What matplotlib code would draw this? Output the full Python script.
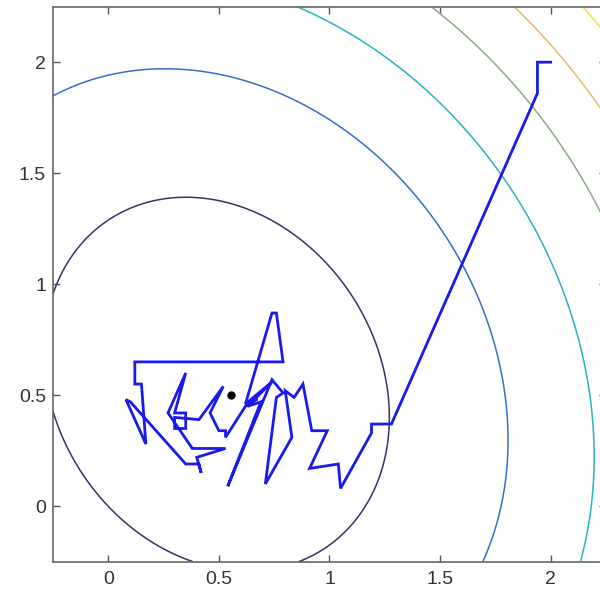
import matplotlib
matplotlib.use('Agg')
import matplotlib.pyplot as plt
import numpy as np

# target function: tilted quadratic bowl
center_x, center_y = 0.49, 0.55
coef_xx, coef_xy, coef_yy = 1.0, 0.33, 0.86
levels = [0.59, 1.68, 2.82, 3.97, 5.05, 6.15]
level_colors = ['#35346a', '#3470c8', '#2ab4c0', '#8daa8a', '#e2bd6a', '#f4e23a']

# sampler path (starts at (2, 2))
path_x = [2.00, 1.94, 1.94, 1.28, 1.19, 1.19, 1.05, 1.04, 0.91, 0.99, 0.92, 0.88,
          0.84, 0.80, 0.83, 0.71, 0.76, 0.79, 0.74, 0.54, 0.69, 0.63, 0.74, 0.62,
          0.74, 0.76, 0.79, 0.12, 0.12, 0.15, 0.17, 0.08, 0.10, 0.35, 0.41, 0.42,
          0.40, 0.53, 0.38, 0.27, 0.35, 0.30, 0.35, 0.35, 0.30, 0.30, 0.41, 0.52,
          0.46, 0.50, 0.53, 0.53, 0.62, 0.67]
path_y = [2.00, 2.00, 1.86, 0.37, 0.37, 0.33, 0.08, 0.19, 0.17, 0.34, 0.34, 0.55,
          0.49, 0.52, 0.31, 0.10, 0.49, 0.51, 0.57, 0.09, 0.47, 0.45, 0.56, 0.46,
          0.87, 0.87, 0.65, 0.65, 0.55, 0.55, 0.28, 0.48, 0.47, 0.19, 0.19, 0.15,
          0.22, 0.26, 0.26, 0.42, 0.60, 0.42, 0.42, 0.35, 0.35, 0.40, 0.39, 0.54,
          0.42, 0.34, 0.34, 0.31, 0.45, 0.48]

mean_point = (0.555, 0.50)

ticks = [0, 0.5, 1, 1.5, 2]
tick_labels = ['0', '0.5', '1', '1.5', '2']

fig = plt.figure(figsize=(6, 5.92), dpi=100)
ax = fig.add_axes([0.0883, 0.0512, 0.9217, 0.9375])

gx = np.linspace(-0.25, 2.25, 300)
gy = np.linspace(-0.25, 2.25, 300)
X, Y = np.meshgrid(gx, gy)
DX, DY = X - center_x, Y - center_y
Z = coef_xx * DX**2 + coef_xy * DX * DY + coef_yy * DY**2

ax.contour(X, Y, Z, levels=levels, colors=level_colors, linewidths=1.1)
ax.plot(path_x, path_y, color='#1a1aee', linewidth=2.0, solid_joinstyle='miter')
ax.plot(*mean_point, 'o', color='black', markersize=5)

ax.set_xlim(-0.25, 2.25)
ax.set_ylim(-0.25, 2.25)
ax.set_xticks(ticks)
ax.set_xticklabels(tick_labels)
ax.set_yticks(ticks)
ax.set_yticklabels(tick_labels)
ax.tick_params(direction='in', length=5, width=1, colors='#555555',
               top=True, right=True, labelsize=14, labelcolor='#333333')
ax.tick_params(axis='x', pad=7)
ax.tick_params(axis='y', pad=5)
for lbl in ax.get_xticklabels() + ax.get_yticklabels():
    lbl.set_family('Liberation Sans')
for sp in ax.spines.values():
    sp.set_color('#666666')
    sp.set_linewidth(1.2)

fig.savefig('out.png', dpi=100)
